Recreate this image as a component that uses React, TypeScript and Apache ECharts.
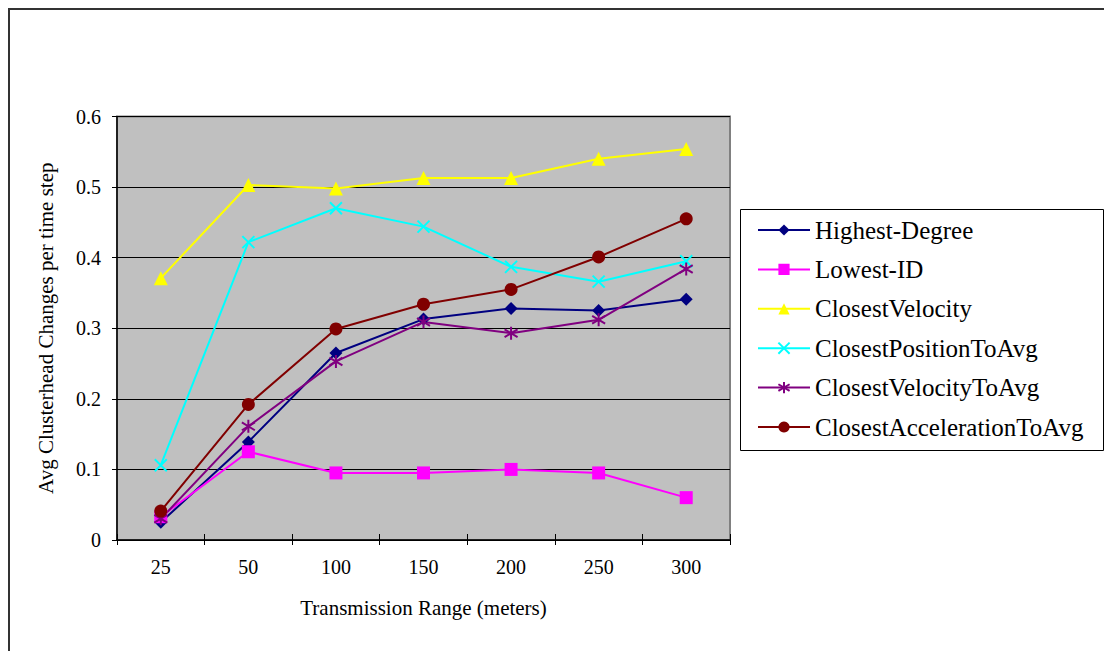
import React, { useEffect, useRef } from "react";
import * as echarts from "echarts";

const categories = ["25", "50", "100", "150", "200", "250", "300"];
const highestDegree = [0.025, 0.139, 0.265, 0.313, 0.328, 0.325, 0.341];
const lowestId = [0.033, 0.125, 0.095, 0.095, 0.1, 0.095, 0.06];
const closestVelocity = [0.371, 0.503, 0.498, 0.513, 0.513, 0.54, 0.554];
const closestPositionToAvg = [0.106, 0.422, 0.47, 0.444, 0.387, 0.366, 0.395];
const closestVelocityToAvg = [0.03, 0.161, 0.253, 0.309, 0.293, 0.312, 0.384];
const closestAccelerationToAvg = [0.041, 0.192, 0.299, 0.334, 0.355, 0.401, 0.455];
const yTicks = [0, 0.1, 0.2, 0.3, 0.4, 0.5, 0.6];

const FONT = "'Liberation Serif', 'Times New Roman', serif";

export default function App() {
  const ref = useRef<HTMLDivElement>(null);
  useEffect(() => {
    if (!ref.current) return;
    const chart = echarts.init(ref.current, null, { renderer: "svg" });
    const crossPath = "path://M0,0L10,10M10,0L0,10";
    const starPath = "path://M5,0L5,10M0,2L10,8M10,2L0,8";
    const mk = (name: string, data: number[], color: string, symbol: string, size: number, stroke = false) => ({
      name,
      type: "line",
      data,
      symbol,
      symbolSize: size,
      showAllSymbol: true,
      lineStyle: { color, width: 2 },
      itemStyle: stroke
        ? { color, borderColor: color, borderWidth: 2 }
        : { color, borderWidth: 0 },
      emphasis: { disabled: true },
    });
    chart.setOption({
      animation: false,
      backgroundColor: "#ffffff",
      textStyle: { fontFamily: FONT },
      grid: {
        left: 117,
        top: 116.5,
        right: 374,
        bottom: 111,
        show: true,
        backgroundColor: "#C0C0C0",
        borderColor: "#808080",
        borderWidth: 2,
      },
      legend: {
        orient: "vertical",
        left: 740,
        top: 209,
        padding: [8.5, 0, 0, 17],
        itemWidth: 52,
        itemHeight: 14,
        itemGap: 14.4,
        textStyle: { fontFamily: FONT, fontSize: 25, color: "#000" },
        data: [
          "Highest-Degree",
          "Lowest-ID",
          "ClosestVelocity",
          "ClosestPositionToAvg",
          "ClosestVelocityToAvg",
          "ClosestAccelerationToAvg",
        ],
      },
      xAxis: [
        {
          type: "category",
          data: categories,
          boundaryGap: true,
          name: "Transmission Range (meters)",
          nameLocation: "middle",
          nameGap: 57,
          nameTextStyle: { fontFamily: FONT, fontSize: 21, color: "#000" },
          axisLine: { lineStyle: { color: "#000", width: 1.5 } },
          axisTick: { show: true, inside: false, length: 5, lineStyle: { color: "#000" } },
          axisLabel: { fontFamily: FONT, fontSize: 20, color: "#000", margin: 17 },
          splitLine: { show: false },
        },
        {
          type: "category",
          data: categories,
          boundaryGap: true,
          position: "bottom",
          axisLine: { show: false },
          axisTick: { show: true, inside: true, length: 6, lineStyle: { color: "#000" } },
          axisLabel: { show: false },
          splitLine: { show: false },
        },
      ],
      yAxis: [
        {
          type: "value",
          min: 0,
          max: 0.6,
          interval: 0.1,
          name: "Avg Clusterhead Changes per time step",
          nameLocation: "middle",
          nameRotate: 90,
          nameGap: 61,
          nameTextStyle: { fontFamily: FONT, fontSize: 21, color: "#000" },
          axisLine: { show: true, lineStyle: { color: "#000", width: 1.5 } },
          axisTick: { show: true, inside: false, length: 5, lineStyle: { color: "#000" } },
          axisLabel: {
            fontFamily: FONT,
            fontSize: 20,
            color: "#000",
            margin: 16,
            formatter: (v: number) => {
              const t = yTicks.find((x) => Math.abs(x - v) < 1e-9);
              return String(t !== undefined ? t : v);
            },
          },
          splitLine: { show: true, lineStyle: { color: "#000", width: 1 } },
        },
        {
          type: "value",
          min: 0,
          max: 0.6,
          interval: 0.1,
          position: "left",
          axisLine: { show: false },
          axisTick: { show: true, inside: true, length: 5, lineStyle: { color: "#000" } },
          axisLabel: { show: false },
          splitLine: { show: false },
        },
      ],
      series: [
        mk("Highest-Degree", highestDegree, "#000080", "diamond", 13),
        mk("Lowest-ID", lowestId, "#FF00FF", "rect", 13),
        mk("ClosestVelocity", closestVelocity, "#FFFF00", "triangle", 14),
        mk("ClosestPositionToAvg", closestPositionToAvg, "#00FFFF", crossPath, 12, true),
        mk("ClosestVelocityToAvg", closestVelocityToAvg, "#800080", starPath, 13, true),
        mk("ClosestAccelerationToAvg", closestAccelerationToAvg, "#800000", "circle", 13),
      ],
      graphic: [
        {
          type: "rect",
          z: 0,
          silent: true,
          shape: { x: 9, y: 9, width: 1200, height: 800 },
          style: { fill: "none", stroke: "#333", lineWidth: 2 },
        },
        {
          type: "rect",
          z: 0,
          silent: true,
          shape: { x: 740.5, y: 209.5, width: 363, height: 241 },
          style: { fill: "#fff", stroke: "#000", lineWidth: 1 },
        },
      ],
    });
    return () => chart.dispose();
  }, []);
  return (
    <div
      ref={ref}
      style={{ position: "fixed", left: 0, top: 0, width: 1104, height: 651 }}
    />
  );
}
